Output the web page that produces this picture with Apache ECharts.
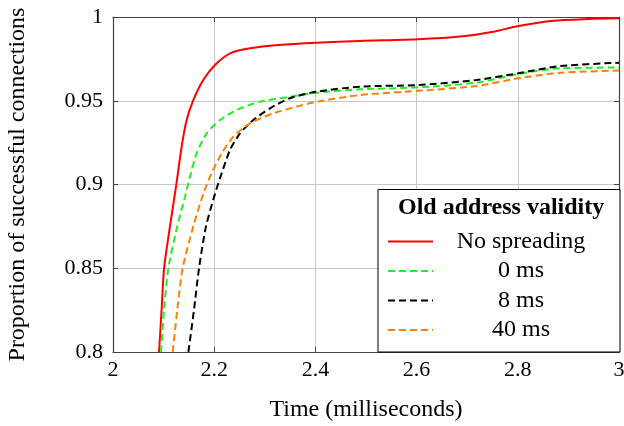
<!DOCTYPE html>
<html>
<head>
<meta charset="utf-8">
<script src="https://cdn.jsdelivr.net/npm/echarts@6/dist/echarts.min.js"></script>
<style>
  html, body { margin: 0; padding: 0; background: #fff; }
  #chart { width: 624px; height: 426px; }
</style>
</head>
<body>
<div id="chart"></div>
<script>
// series names
const seriesNames = ['No spreading', '0 ms', '8 ms', '40 ms']

// time (ms) / proportion values, one pair of arrays per curve
const noSpreadX = [2.091, 2.096, 2.101, 2.1126, 2.1245, 2.1357, 2.1456, 2.1587, 2.1785, 2.2016, 2.2312, 2.2708, 2.3267, 2.4025, 2.488, 2.603, 2.686, 2.7516, 2.801, 2.870, 2.94, 3.0]
const noSpreadY = [0.8, 0.825, 0.85, 0.875, 0.8987, 0.9226, 0.9385, 0.9504, 0.9624, 0.9713, 0.9783, 0.9813, 0.9833, 0.9847, 0.9857, 0.9867, 0.9883, 0.9912, 0.9946, 0.9978, 0.9988, 0.9992]

const ms0X = [2.095, 2.1008, 2.1094, 2.127, 2.1423, 2.1522, 2.1653, 2.185, 2.2115, 2.2443, 2.2905, 2.3498, 2.4025, 2.488, 2.603, 2.7187, 2.801, 2.883, 3.0]
const ms0Y = [0.8, 0.825, 0.85, 0.875, 0.8927, 0.9047, 0.9186, 0.9305, 0.9385, 0.9445, 0.9494, 0.9524, 0.9548, 0.9568, 0.958, 0.9608, 0.966, 0.9694, 0.9698]

const ms8X = [2.149, 2.16, 2.17, 2.1838, 2.2016, 2.2148, 2.2312, 2.251, 2.2773, 2.3103, 2.3498, 2.4025, 2.488, 2.603, 2.7187, 2.801, 2.883, 3.0]
const ms8Y = [0.8, 0.825, 0.85, 0.875, 0.8945, 0.9067, 0.9206, 0.9305, 0.9385, 0.9455, 0.9515, 0.9554, 0.9584, 0.9594, 0.9624, 0.9664, 0.9707, 0.9727]

const ms40X = [2.118, 2.127, 2.1377, 2.1587, 2.1785, 2.1949, 2.2148, 2.2378, 2.2708, 2.3168, 2.3629, 2.4025, 2.488, 2.603, 2.7187, 2.801, 2.883, 3.0]
const ms40Y = [0.8, 0.825, 0.85, 0.875, 0.8945, 0.9067, 0.9186, 0.9285, 0.9365, 0.9425, 0.9465, 0.9494, 0.9534, 0.9559, 0.9588, 0.9634, 0.9667, 0.968]

const colors = ['#ff0000', '#22ee22', '#000000', '#ff8000']

const fontFamily = 'Liberation Serif'

function pairs(xs, ys) {
  return xs.map((x, i) => [x, ys[i]])
}

const chartDom = document.getElementById('chart')
const myChart = echarts.init(chartDom, null, { renderer: 'canvas' })

// pgfplots look: inward ticks on all four sides, light grid
const tickStyle = { show: true, inside: true, length: 5, lineStyle: { color: '#444', width: 1 } }
const lineStyle = { show: true, lineStyle: { color: '#444', width: 1.2 } }

const option = {
  animation: false,
  textStyle: { fontFamily: fontFamily, color: '#000' },
  grid: { left: 113, right: 5, top: 17, bottom: 74, containLabel: false, outerBoundsMode: 'none' },
  xAxis: [
    {
      type: 'value',
      min: 2,
      max: 3,
      interval: 0.2,
      name: 'Time (milliseconds)',
      nameLocation: 'middle',
      nameGap: 46,
      nameTextStyle: { fontFamily: fontFamily, fontSize: 24, color: '#000' },
      axisLine: lineStyle,
      axisTick: tickStyle,
      axisLabel: { fontFamily: fontFamily, fontSize: 22, color: '#000', margin: 7 },
      splitLine: { show: true, lineStyle: { color: '#c8c8c8', width: 1 } }
    },
    {
      type: 'value',
      position: 'top',
      min: 2,
      max: 3,
      interval: 0.2,
      axisLine: lineStyle,
      axisTick: tickStyle,
      axisLabel: { show: false },
      splitLine: { show: false }
    }
  ],
  yAxis: [
    {
      type: 'value',
      min: 0.8,
      max: 1,
      interval: 0.05,
      name: 'Proportion of successful connections',
      nameLocation: 'middle',
      nameGap: 83,
      nameTextStyle: { fontFamily: fontFamily, fontSize: 24, color: '#000' },
      axisLine: lineStyle,
      axisTick: tickStyle,
      axisLabel: { fontFamily: fontFamily, fontSize: 22, color: '#000', margin: 10 },
      splitLine: { show: true, lineStyle: { color: '#c8c8c8', width: 1 } }
    },
    {
      type: 'value',
      position: 'right',
      min: 0.8,
      max: 1,
      interval: 0.05,
      axisLine: lineStyle,
      axisTick: tickStyle,
      axisLabel: { show: false },
      splitLine: { show: false }
    }
  ],
  legend: {
    data: seriesNames,
    orient: 'vertical',
    right: 4,
    bottom: 74,
    padding: [40, 16, 10, 9],
    itemWidth: 45,
    itemHeight: 14,
    itemGap: 5.5,
    backgroundColor: '#fff',
    borderColor: '#000',
    borderWidth: 1,
    borderRadius: 0,
    itemStyle: { opacity: 0 },
    textStyle: {
      fontFamily: fontFamily,
      fontSize: 24,
      color: '#000',
      rich: { c: { width: 166, height: 22, lineHeight: 22, align: 'center', fontFamily: fontFamily, fontSize: 24 } }
    },
    formatter: function (name) {
      return '{c|' + name + '}'
    }
  },
  // legend title, drawn over the legend box
  graphic: [
    {
      type: 'text',
      z: 100,
      zlevel: 0,
      left: 398,
      top: 196,
      style: {
        text: 'Old address validity',
        font: 'bold 24px "Liberation Serif"',
        fill: '#000'
      }
    }
  ],
  series: [
    { name: seriesNames[0], data: pairs(noSpreadX, noSpreadY), color: colors[0], lineStyle: { width: 2, type: 'solid' } },
    { name: seriesNames[1], data: pairs(ms0X, ms0Y), color: colors[1], lineStyle: { width: 2, type: [7, 4] } },
    { name: seriesNames[2], data: pairs(ms8X, ms8Y), color: colors[2], lineStyle: { width: 2, type: [7, 4] } },
    { name: seriesNames[3], data: pairs(ms40X, ms40Y), color: colors[3], lineStyle: { width: 2, type: [7, 4] } }
  ].map(s => Object.assign({
    type: 'line',
    showSymbol: false,
    symbol: 'none',
    smooth: 0.25,
    clip: true
  }, s))
}

myChart.setOption(option)
</script>
</body>
</html>
